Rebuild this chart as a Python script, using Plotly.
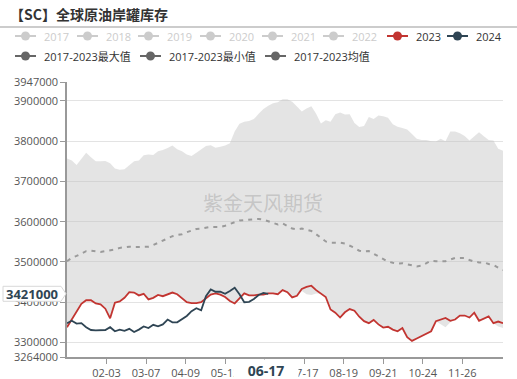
import plotly.graph_objects as go
import pandas as pd

# ---------------- data (values in thousand barrels -> scaled below) ----------------
dates = pd.date_range("2024-01-01", periods=92, freq="4D")

max_k = [3757, 3752, 3741, 3755, 3771, 3760, 3750, 3750, 3751, 3745,
         3732, 3729, 3730, 3740, 3750, 3752, 3765, 3767, 3766, 3775,
         3778, 3783, 3789, 3780, 3775, 3767, 3763, 3771, 3779, 3788,
         3790, 3784, 3786, 3789, 3795, 3824, 3843, 3848, 3850, 3855,
         3868, 3880, 3888, 3894, 3897, 3904, 3904, 3898, 3886, 3874,
         3881, 3887, 3868, 3844, 3852, 3848, 3867, 3871, 3866, 3867,
         3845, 3835, 3838, 3860, 3855, 3864, 3862, 3858, 3842, 3836,
         3833, 3829, 3818, 3806, 3803, 3803, 3800, 3799, 3806, 3800,
         3824, 3824, 3820, 3813, 3802, 3811, 3822, 3812, 3803, 3802,
         3781, 3776]

y2023_k = [3338, 3357, 3379, 3396, 3405, 3405, 3397, 3395, 3384, 3360,
           3399, 3402, 3411, 3425, 3424, 3417, 3421, 3407, 3411, 3418,
           3415, 3420, 3424, 3420, 3410, 3400, 3398, 3398, 3400, 3409,
           3419, 3422, 3419, 3413, 3403, 3397, 3410, 3422, 3417, 3417,
           3419, 3419, 3422, 3422, 3420, 3430, 3425, 3412, 3416, 3433,
           3438, 3441, 3430, 3421, 3413, 3382, 3374, 3362, 3375, 3383,
           3379, 3364, 3353, 3348, 3356, 3345, 3337, 3339, 3332, 3328,
           3336, 3313, 3304, 3310, 3316, 3322, 3328, 3353, 3357, 3361,
           3354, 3357, 3367, 3367, 3362, 3374, 3354, 3360, 3365, 3348,
           3352, 3348]

min_k = [3338, 3357, 3379, 3396, 3405, 3405, 3397, 3395, 3384, 3360,
         3399, 3402, 3411, 3425, 3424, 3417, 3421, 3407, 3411, 3418,
         3415, 3420, 3424, 3420, 3410, 3400, 3398, 3398, 3400, 3409,
         3419, 3422, 3419, 3413, 3403, 3397, 3410, 3422, 3417, 3417,
         3419, 3419, 3422, 3422, 3420, 3430, 3425, 3412, 3416, 3428,
         3420, 3418, 3422, 3421, 3413, 3382, 3374, 3362, 3375, 3383,
         3379, 3364, 3353, 3348, 3356, 3345, 3337, 3339, 3332, 3328,
         3336, 3313, 3304, 3310, 3316, 3322, 3328, 3353, 3345, 3338,
         3350, 3357, 3367, 3367, 3362, 3374, 3354, 3360, 3365, 3348,
         3340, 3336]

mean_k = [3502, 3510, 3515, 3520, 3527, 3528, 3526, 3525, 3527, 3529,
          3531, 3535, 3537, 3538, 3537, 3537, 3538, 3538, 3542, 3548,
          3554, 3560, 3564, 3567, 3569, 3574, 3579, 3582, 3583, 3585,
          3587, 3587, 3587, 3590, 3594, 3598, 3603, 3604, 3605, 3607,
          3607, 3605, 3601, 3597, 3593, 3596, 3590, 3583, 3581, 3583,
          3580, 3577, 3569, 3560, 3551, 3548, 3548, 3548, 3546, 3541,
          3535, 3528, 3526, 3527, 3521, 3513, 3508, 3501, 3498, 3496,
          3497, 3494, 3492, 3489, 3491, 3496, 3503, 3502, 3502, 3502,
          3506, 3510, 3510, 3510, 3505, 3501, 3499, 3499, 3495, 3493,
          3486, 3480]

y2024_k = [3348, 3354, 3347, 3348, 3338, 3331, 3330, 3330, 3331, 3338,
           3328, 3332, 3329, 3334, 3326, 3332, 3340, 3336, 3344, 3340,
           3345, 3357, 3350, 3350, 3358, 3366, 3378, 3385, 3380, 3415,
           3432, 3426, 3426, 3421, 3428, 3436, 3420, 3400, 3401, 3408,
           3418, 3423, 3421]

tick_dates = ["2024-02-03", "2024-03-07", "2024-04-09", "2024-05-12", "2024-06-14",
              "2024-07-17", "2024-08-19", "2024-09-21", "2024-10-24", "2024-11-26"]
tick_text = [d[5:] for d in tick_dates]
y_ticks = [3264000, 3300000, 3400000, 3500000, 3600000, 3700000, 3800000, 3900000, 3947000]

pointer_date = "2024-06-17"
pointer_value = 3421000

legend_row1 = ["2017", "2018", "2019", "2020", "2021", "2022", "2023", "2024"]
legend_row2 = ["2017-2023最大值", "2017-2023最小值", "2017-2023均值"]

k = 1000
x_all = list(dates)
x_2024 = list(dates[:len(y2024_k)])

RED = "#c23531"
DARK = "#2f4554"
FONT = "Open Sans, Noto Sans CJK SC, sans-serif"

fig = go.Figure()
fig.add_trace(go.Scatter(x=x_all, y=[v * k for v in min_k], mode="lines",
                         line=dict(width=0, color="rgba(0,0,0,0)"), showlegend=False,
                         hoverinfo="skip"))
fig.add_trace(go.Scatter(x=x_all, y=[v * k for v in max_k], mode="lines",
                         line=dict(width=0, color="rgba(0,0,0,0)"), fill="tonexty",
                         fillcolor="rgba(190,190,190,0.42)", showlegend=False))
fig.add_trace(go.Scatter(x=x_all, y=[v * k for v in mean_k], mode="lines",
                         line=dict(width=2, color="#9a9a9a", dash="4px,5px"), showlegend=False))
fig.add_trace(go.Scatter(x=x_all, y=[v * k for v in y2023_k], mode="lines",
                         line=dict(width=1.8, color=RED), showlegend=False))
fig.add_trace(go.Scatter(x=x_2024, y=[v * k for v in y2024_k], mode="lines",
                         line=dict(width=1.8, color=DARK), showlegend=False))

L, R, T, B = 67, 14, 82, 22
W, H = 517, 379
PW, PH = W - L - R, H - T - B


def px(x):
    return (x - L) / PW


def py(y):
    return (H - B - y) / PH


shapes = []
annotations = []

# title + rule
annotations.append(dict(text="<b>【SC】全球原油岸罐库存</b>", x=px(8), y=py(14), xref="paper", yref="paper",
                        xanchor="left", yanchor="middle", showarrow=False,
                        font=dict(size=14, color="#333", family="Noto Sans CJK SC")))
shapes.append(dict(type="line", xref="paper", yref="paper", x0=px(0), x1=px(517), y0=py(27), y1=py(27),
                   line=dict(color="#9a9a9a", width=1.2)))

# legend (manual)
row1_pos = [15, 77, 138, 200, 262, 323, 387, 447]
row1_col = ["#ccc"] * 6 + [RED, DARK]
row1_txt = ["#ccc"] * 6 + ["#333", "#333"]
row2_pos = [15, 140, 265]


def legend_item(x0, y, color, label, tcolor):
    shapes.append(dict(type="line", xref="paper", yref="paper", x0=px(x0), x1=px(x0 + 21),
                       y0=py(y), y1=py(y), line=dict(color=color, width=2)))
    shapes.append(dict(type="circle", xref="paper", yref="paper", xsizemode="pixel", ysizemode="pixel",
                       xanchor=px(x0 + 10.5), yanchor=py(y), x0=-4.5, x1=4.5, y0=-4.5, y1=4.5,
                       fillcolor=color, line=dict(color=color, width=0)))
    annotations.append(dict(text=label, x=px(x0 + 27), y=py(y), xref="paper", yref="paper",
                            xanchor="left", yanchor="middle", showarrow=False,
                            font=dict(size=11, color=tcolor, family=FONT)))


for lbl, x0, c, tc in zip(legend_row1, row1_pos, row1_col, row1_txt):
    legend_item(x0, 36, c, lbl, tc)
for lbl, x0 in zip(legend_row2, row2_pos):
    legend_item(x0, 56, "#666", lbl, "#333")

# watermark
annotations.append(dict(text="紫金天风期货", x=px(263), y=py(202), xref="paper", yref="paper",
                        showarrow=False, font=dict(size=20, color="rgba(150,150,150,0.4)",
                                                   family="Noto Sans CJK SC")))

# axis pointer labels
half = 7.5 * (y_ticks[-1] - y_ticks[0]) / PH
shapes.append(dict(type="path", xref="paper", yref="y",
                   path=(f"M {px(3)},{pointer_value + half} L {px(61)},{pointer_value + half} "
                         f"L {px(66)},{pointer_value} L {px(61)},{pointer_value - half} "
                         f"L {px(3)},{pointer_value - half} Z"),
                   fillcolor="white", line=dict(color="#d8d8d8", width=1), layer="above"))
annotations.append(dict(text="<b>3421000</b>", x=px(32), y=pointer_value, xref="paper", yref="y",
                        showarrow=False, xanchor="center", yanchor="middle",
                        font=dict(size=13, color=DARK, family=FONT)))
annotations.append(dict(text="<b>06-17</b>", x=pointer_date, y=py(370), xref="x", yref="paper",
                        showarrow=False, xanchor="center", yanchor="middle", width=60, height=16,
                        bgcolor="white", borderpad=2, xshift=-2,
                        font=dict(size=14, color=DARK, family=FONT)))

fig.update_layout(
    width=W, height=H,
    margin=dict(l=L, r=R, t=T, b=B, autoexpand=False),
    paper_bgcolor="white", plot_bgcolor="white",
    showlegend=False,
    font=dict(family=FONT, size=11, color="#555"),
    shapes=shapes, annotations=annotations,
    xaxis=dict(type="date", range=[dates[0], dates[-1]], tickvals=tick_dates, ticktext=tick_text,
               showgrid=False, showline=True, linecolor="#999", linewidth=1.5, automargin=False,
               ticks="outside", ticklen=5, tickcolor="#999", tickfont=dict(size=11, color="#555"),
               zeroline=False),
    yaxis=dict(range=[y_ticks[0], y_ticks[-1]], tickvals=y_ticks, ticktext=[str(v) for v in y_ticks],
               showgrid=True, gridcolor="#e3e3e3", gridwidth=1, showline=True, linecolor="#999",
               linewidth=1.5, ticks="outside", ticklen=5, tickcolor="#999", automargin=False,
               tickfont=dict(size=11, color="#555"), zeroline=False),
)

fig.write_html("out.html", config={"displayModeBar": False},
               post_script="document.body.style.margin='0';document.body.style.overflow='hidden';")
